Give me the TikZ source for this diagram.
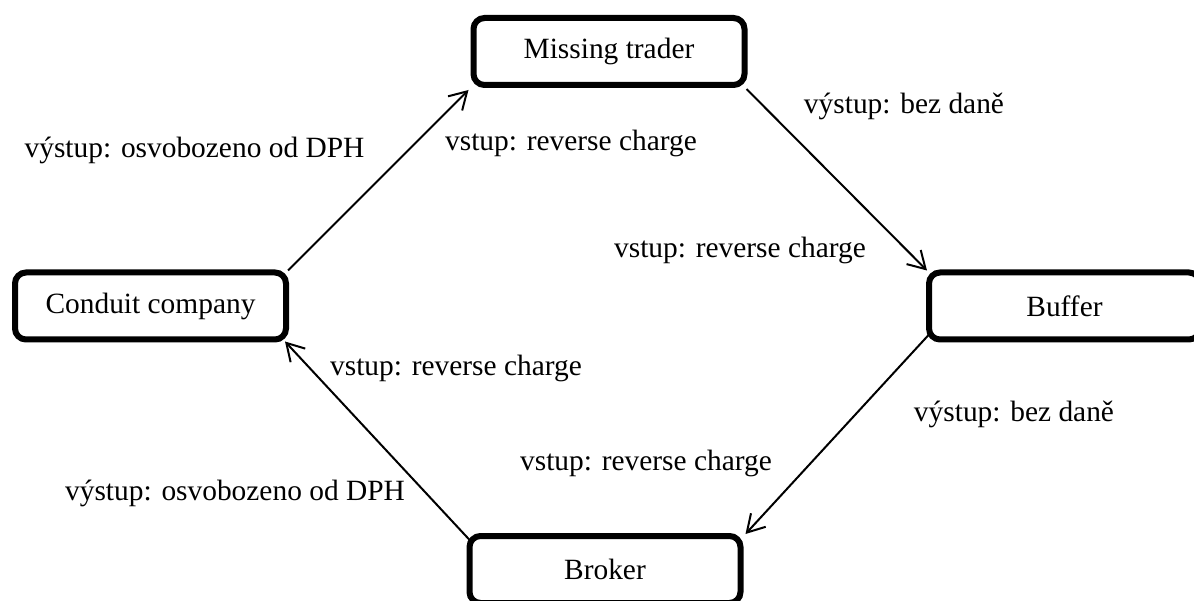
\documentclass[tikz,border=0pt]{standalone}
\usepackage{fontspec}
\setmainfont{Liberation Serif}
\usetikzlibrary{arrows.meta}
\tikzset{
  entity/.style={draw=black, line width=6pt, rounded corners=11pt, fill=white,
    minimum width=271pt, minimum height=67pt, inner sep=0pt,
    font=\fontsize{29.4}{34}\selectfont},
  lbl/.style={inner sep=0pt, font=\fontsize{29.4}{34}\selectfont},
  flow/.style={line width=2pt, -{Straight Barb[length=17pt,width=20pt,line width=2pt]}}
}
\begin{document}
\begin{tikzpicture}[x=1pt,y=-1pt]
\useasboundingbox (0,0) rectangle (1194,601);
\clip (0,0) rectangle (1194,601);
\node[entity] (missing) at (609,51.5) {Missing trader};
\node[entity] (conduit) at (150.5,306) {Conduit company};
\node[entity] (buffer) at (1064.5,306) {Buffer};
\node[entity] (broker) at (605,569.5) {Broker};

\draw[flow] ([shift={(-1pt,-1pt)}]conduit.north east) -- ([shift={(-2pt,-2pt)}]missing.south west);
\draw[flow] ([shift={(-1pt,-1pt)}]missing.south east) -- ([shift={(1pt,-1pt)}]buffer.north west);
\draw[flow] ([shift={(3pt,8pt)}]buffer.south west) -- ([shift={(2pt,-1pt)}]broker.north east);
\draw[flow] ([shift={(5pt,-9pt)}]broker.north west) -- ([shift={(-4pt,1pt)}]conduit.south east);

\node[lbl] (l1) at (194.5,150) {výstup: osvobozeno od DPH};
\node[lbl] (l2) at (571,143) {vstup: reverse charge};
\node[lbl] (l3) at (904,106) {výstup: bez daně};
\node[lbl] (l4) at (740,250) {vstup: reverse charge};
\node[lbl] (l5) at (456,368) {vstup: reverse charge};
\node[lbl] (l6) at (1014,414) {výstup: bez daně};
\node[lbl] (l7) at (646,463) {vstup: reverse charge};
\node[lbl] (l8) at (235,493) {výstup: osvobozeno od DPH};
\end{tikzpicture}
\end{document}
